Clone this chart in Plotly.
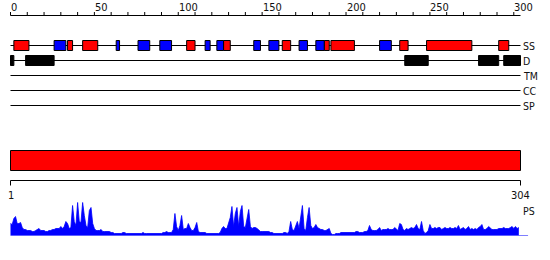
import plotly.graph_objects as go

# ---------------- data ----------------
seq_length = 304
track_names = ["SS", "D", "TM", "CC", "SP"]

helix_start = [3, 35, 44, 106, 128, 163, 188, 192, 233, 249, 292]
helix_end = [11, 37, 52, 110, 131, 167, 190, 205, 237, 275, 297]
strand_start = [27, 64, 77, 90, 117, 124, 146, 155, 173, 183, 221]
strand_end = [33, 65, 83, 96, 119, 127, 149, 160, 177, 187, 227]
disorder_start = [1, 10, 236, 280, 295]
disorder_end = [2, 26, 249, 291, 304]
tm_start, tm_end = [], []
cc_start, cc_end = [], []
sp_start, sp_end = [], []

domain_start = [1]
domain_end = [304]

ruler_label_values = [0, 50, 100, 150, 200, 250, 300]
ruler_tick_step = 10

ps_scores = [
    12, 11, 17, 19, 12, 12, 13, 8, 6, 6, 5, 5, 5, 4, 4, 5, 6, 7, 5, 5, 5,
    4, 4, 5, 5, 6, 6, 7, 7, 7, 9, 7, 9, 14, 12, 7, 8, 30, 14, 10, 33,
    14, 13, 33, 20, 10, 8, 25, 28, 12, 7, 5, 5, 5, 6, 4, 4, 4, 4, 4, 3,
    3, 2, 2, 2, 2, 2, 3, 3, 2, 2, 2, 2, 2, 2, 2, 2,
    2, 2, 3, 2, 2, 2, 2, 2, 2, 2, 2, 2, 2, 2, 3, 3, 4, 3, 3, 3,
    6, 22, 9, 5, 10, 20, 6, 7, 7, 12, 8, 5, 5, 8, 13, 4, 3, 3, 3, 3,
    2, 2, 2, 2, 2, 2, 2, 2, 3, 7, 9, 7, 7, 12, 18, 29, 9, 22, 28, 9,
    24, 30, 9, 8, 18, 26, 9, 7, 8, 8, 7, 5, 4, 4, 4, 4, 4, 4,
    3, 3, 2, 2, 2, 2, 2, 2, 3, 3, 2, 4, 14, 6, 5, 10, 14, 7, 20, 30,
    7, 5, 18, 28, 10, 7, 8, 11, 8, 7, 6, 6, 5, 5, 6, 7, 2, 1, 1, 2,
    2, 2, 3, 3, 3, 3, 3, 3, 3, 3, 3, 4, 4, 3, 3, 3, 4, 4, 5, 10,
    6, 5, 5, 5, 6, 8, 5, 6, 6, 6, 7, 6, 6, 6, 8, 6, 5, 12,
    11, 6, 5, 7, 6, 7, 8, 7, 8, 11, 7, 6, 14, 5, 2, 3, 5, 11, 7, 7,
    8, 7, 8, 8, 6, 7, 8, 7, 7, 8, 7, 7, 8, 7, 10, 6, 7, 8, 6, 7,
    9, 6, 7, 6, 7, 6, 8, 9, 11, 6, 6, 7, 9, 7, 6, 6, 6, 6, 7, 7,
    7, 8, 7, 7, 7, 8, 9, 7, 9, 7, 8,
]
ps_max = 40

# ---------------- styling / layout constants ----------------
W, H = 550, 260
PX0, PXK = 10.5, 510 / 304          # pixel of position 0, pixels per residue
FONT = "Liberation Sans Narrow, DejaVu Sans Condensed, Liberation Sans, sans-serif"
TXT = "#111111"
RED, BLUE, BLACK = "#ff0000", "#0000ff", "#000000"

ruler_y = 15.5
track_y0, track_gap = 45.5, 15
box_half = 5
dom_y0, dom_y1 = 150.5, 170.5
scale_y = 180.5
ps_base_px, ps_height_px = 235.5, 40

x_lo = -PX0 / PXK
x_hi = (W - PX0) / PXK

fig = go.Figure()
shapes = []
annotations = []


def hline(x0, x1, y, color=BLACK, yref="y"):
    shapes.append(dict(type="line", xref="x", yref=yref, x0=x0, x1=x1, y0=y, y1=y,
                       line=dict(color=color, width=1), layer="above"))


# top ruler
hline(0, seq_length, ruler_y)
for v in range(0, ruler_label_values[-1] + 1, ruler_tick_step):
    shapes.append(dict(type="line", xref="x", yref="y", x0=v, x1=v, y0=ruler_y - 3.5, y1=ruler_y,
                       line=dict(color=BLACK, width=1), layer="above"))
for v in ruler_label_values:
    annotations.append(dict(x=v, y=7, xref="x", yref="y", text=str(v), showarrow=False,
                            xanchor="left", yanchor="middle", borderpad=0, xshift=-0.5,
                            font=dict(family=FONT, size=11, color=TXT)))

# tracks
track_segments = {
    "SS": [(helix_start, helix_end, RED), (strand_start, strand_end, BLUE)],
    "D": [(disorder_start, disorder_end, BLACK)],
    "TM": [(tm_start, tm_end, BLACK)],
    "CC": [(cc_start, cc_end, BLACK)],
    "SP": [(sp_start, sp_end, BLACK)],
}
for i, name in enumerate(track_names):
    yc = track_y0 + i * track_gap
    hline(0, seq_length, yc)
    for starts, ends, col in track_segments[name]:
        for s, e in zip(starts, ends):
            shapes.append(dict(type="rect", xref="x", yref="y", x0=s - 1, x1=e,
                               y0=yc - box_half, y1=yc + box_half,
                               fillcolor=col, line=dict(color=BLACK, width=1), layer="above"))
    annotations.append(dict(x=seq_length, y=yc, xref="x", yref="y", text=name, showarrow=False,
                            xanchor="left", yanchor="middle", borderpad=0, xshift=1,
                            font=dict(family=FONT, size=10.5, color=TXT)))

# domain bar
for s, e in zip(domain_start, domain_end):
    shapes.append(dict(type="rect", xref="x", yref="y", x0=s - 1, x1=e, y0=dom_y0, y1=dom_y1,
                       fillcolor=RED, line=dict(color=BLACK, width=1), layer="above"))

# bottom scale
hline(0, seq_length, scale_y)
for v in (0, seq_length):
    shapes.append(dict(type="line", xref="x", yref="y", x0=v, x1=v, y0=scale_y, y1=scale_y + 5,
                       line=dict(color=BLACK, width=1), layer="above"))
annotations.append(dict(x=0, y=195.5, xref="x", yref="y", text="1", showarrow=False,
                        xanchor="center", yanchor="middle", borderpad=0,
                        font=dict(family=FONT, size=11, color=TXT)))
annotations.append(dict(x=seq_length, y=195.5, xref="x", yref="y", text=str(seq_length),
                        showarrow=False, xanchor="center", yanchor="middle", borderpad=0,
                        font=dict(family=FONT, size=11, color=TXT)))
annotations.append(dict(x=seq_length, y=210.5, xref="x", yref="y", text="PS", showarrow=False,
                        xanchor="left", yanchor="middle", borderpad=0, xshift=1,
                        font=dict(family=FONT, size=10.5, color=TXT)))

# PS profile
fig.add_trace(go.Scatter(
    x=list(range(len(ps_scores))), y=ps_scores, xaxis="x", yaxis="y2",
    mode="lines", fill="tozeroy", fillcolor=BLUE,
    line=dict(color=BLUE, width=0.8), hoverinfo="skip", showlegend=False,
))
shapes.append(dict(type="line", xref="x", yref="y2", x0=0, x1=seq_length + 4.5, y0=0, y1=0,
                   line=dict(color=BLUE, width=1), layer="above"))

# invisible trace so the primary (pixel-like) y axis is active
fig.add_trace(go.Scatter(x=[0], y=[0], xaxis="x", yaxis="y", mode="markers",
                         marker=dict(opacity=0), hoverinfo="skip", showlegend=False))

fig.update_layout(
    width=W, height=H,
    margin=dict(l=0, r=0, t=0, b=0, pad=0),
    paper_bgcolor="white", plot_bgcolor="white",
    xaxis=dict(range=[x_lo, x_hi], visible=False, fixedrange=True),
    yaxis=dict(range=[H, 0], visible=False, fixedrange=True, domain=[0, 1]),
    yaxis2=dict(range=[0, ps_max], visible=False, fixedrange=True, anchor="x",
                domain=[(H - ps_base_px) / H, (H - ps_base_px + ps_height_px) / H]),
    shapes=shapes,
    annotations=annotations,
    showlegend=False,
)

fig.write_html("out.html")
